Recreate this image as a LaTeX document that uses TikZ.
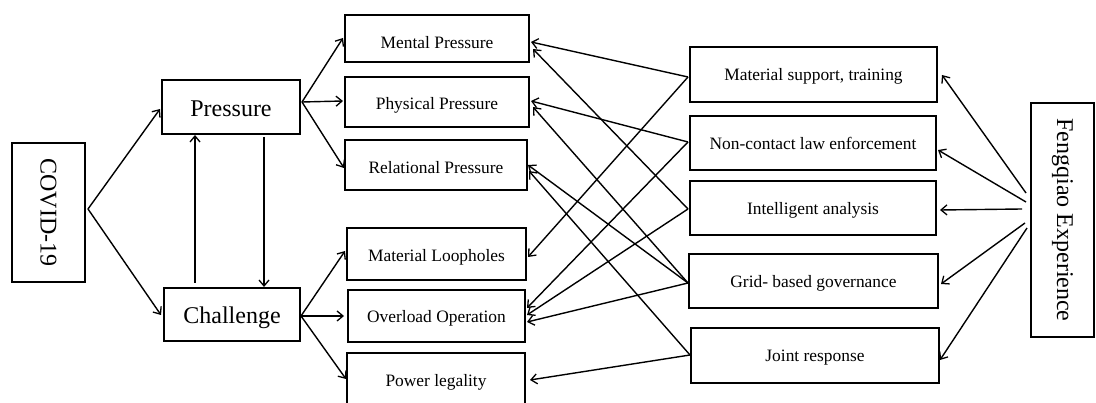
\documentclass[tikz,border=0pt]{standalone}
\usepackage{fontspec}
\setmainfont{Liberation Serif}
\usetikzlibrary{arrows.meta,calc}
\begin{document}
\begin{tikzpicture}[x=1pt,y=-1pt,
  box/.style={draw,line width=1.6pt,inner sep=0pt,outer sep=0pt,align=center},
  bigtxt/.style={font=\fontsize{24}{28}\selectfont,text height=18.5pt,text depth=0pt},
  smalltxt/.style={font=\fontsize{17.4}{20}\selectfont,text height=12.5pt,text depth=0pt},
  rottxt/.style={font=\fontsize{24}{28}\selectfont},
  arr/.style={line width=1.4pt,-{Straight Barb[length=6pt,width=10pt,line width=1.3pt]}}]
\useasboundingbox (0,0) rectangle (1096,403);
\clip (0,0) rectangle (1096,403);
% left
\node[box,rottxt,minimum width=73pt,minimum height=139pt] (covid) at (48.5,212.5) {\rotatebox{-90}{COVID-19}};
\node[box,bigtxt,minimum width=138pt,minimum height=54pt] (pressure) at (231,107) {Pressure};
\node[box,bigtxt,minimum width=136pt,minimum height=53pt] (challenge) at (232,314.5) {Challenge};
% middle
\node[box,smalltxt,text height=19.5pt,minimum width=184pt,minimum height=47pt] (mental) at (437,38.5) {Mental Pressure};
\node[box,smalltxt,text height=15.5pt,minimum width=184pt,minimum height=50pt] (physical) at (437,102) {Physical Pressure};
\node[box,smalltxt,text height=17.5pt,minimum width=182pt,minimum height=50pt] (relational) at (436,165) {Relational Pressure};
\node[box,smalltxt,text height=14.5pt,minimum width=179pt,minimum height=52pt] (loopholes) at (436.5,254) {Material Loopholes};
\node[box,smalltxt,minimum width=177pt,minimum height=52pt] (overload) at (436.5,316) {Overload Operation};
\node[box,smalltxt,minimum width=178pt,minimum height=55pt] (power) at (436,380.5) {Power legality};
% right
\node[box,smalltxt,minimum width=247pt,minimum height=55pt] (material) at (813.5,74.5) {Material support, training};
\node[box,smalltxt,minimum width=246pt,minimum height=54pt] (noncontact) at (813,143) {Non-contact law enforcement};
\node[box,smalltxt,minimum width=246pt,minimum height=54pt] (intelligent) at (813,208) {Intelligent analysis};
\node[box,smalltxt,minimum width=249pt,minimum height=54pt] (grid) at (813.5,281) {Grid- based governance};
\node[box,smalltxt,minimum width=248pt,minimum height=55pt] (joint) at (815,355.5) {Joint response};
\node[box,rottxt,minimum width=63pt,minimum height=234pt] (fengqiao) at (1062.5,220) {\rotatebox{-90}{Fengqiao Experience}};
% coordinates
\coordinate (cv) at ($(covid.east)+(3,-3.5)$);
\coordinate (ps) at ($(pressure.east)+(2,-5)$);
\coordinate (cs) at ($(challenge.east)+(1,1.5)$);
% COVID arrows
\draw[arr] (cv) -- ($(pressure.west)+(-2,2)$);
\draw[arr] (cv) -- ($(challenge.west)+(-3,0.5)$);
% vertical arrows
\draw[arr] ($(challenge.north)+(-37,-5)$) -- ($(pressure.south)+(-36,1)$);
\draw[arr] ($(pressure.south)+(33,3)$) -- ($(challenge.north)+(32,-1)$);
% pressure fan
\draw[arr] (ps) -- ($(mental.west)+(-2,-0.5)$);
\draw[arr] (ps) -- ($(physical.west)+(-2,-1)$);
\draw[arr] (ps) -- ($(relational.west)+(-1,3)$);
% challenge fan
\draw[arr] (cs) -- ($(loopholes.west)+(-2,-3)$);
\draw[arr] (cs) -- ($(overload.west)+(-4,0)$);
\draw[arr] (cs) -- ($(power.west)+(-1,-1.5)$);
% right to middle
\draw[arr] ($(material.west)+(-2,2.5)$) -- ($(mental.east)+(2,3.5)$);
\draw[arr] ($(intelligent.west)+(-2,1)$) -- ($(mental.east)+(4,10.5)$);
\draw[arr] ($(noncontact.west)+(-2,-1)$) -- ($(physical.east)+(2,-1)$);
\draw[arr] ($(grid.west)+(-1,2)$) -- ($(physical.east)+(4,5)$);
\draw[arr] ($(grid.west)+(-1,2)$) -- ($(relational.east)+(1,0)$);
\draw[arr] ($(joint.west)+(-1,-0.5)$) -- ($(relational.east)+(2,6)$);
\draw[arr] ($(material.west)+(-2,2.5)$) -- ($(loopholes.east)+(2,3)$);
\draw[arr] ($(noncontact.west)+(-2,-1)$) -- ($(overload.east)+(2,-8)$);
\draw[arr] ($(intelligent.west)+(-2,1)$) -- ($(overload.east)+(2,-1)$);
\draw[arr] ($(grid.west)+(-1,2)$) -- ($(overload.east)+(2,6)$);
\draw[arr] ($(joint.west)+(-1,-0.5)$) -- ($(power.east)+(5,-0.5)$);
% Fengqiao arrows
\draw[arr] ($(fengqiao.west)+(-5,-27)$) -- ($(material.east)+(5,0.5)$);
\draw[arr] ($(fengqiao.west)+(-5,-18)$) -- ($(noncontact.east)+(2,7)$);
\draw[arr] ($(fengqiao.west)+(-9,-11)$) -- ($(intelligent.east)+(4,2)$);
\draw[arr] ($(fengqiao.west)+(-6,3)$) -- ($(grid.east)+(3,3)$);
\draw[arr] ($(fengqiao.west)+(-4,8)$) -- ($(joint.east)+(1,4.5)$);
\end{tikzpicture}
\end{document}
